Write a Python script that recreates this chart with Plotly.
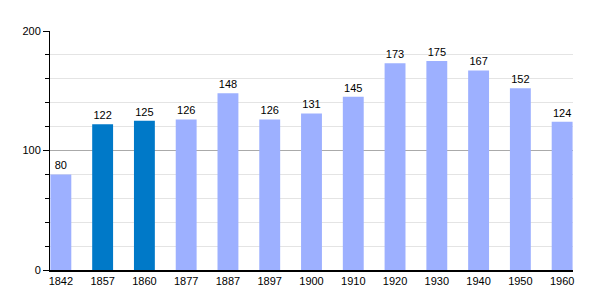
import plotly.graph_objects as go

years = ["1842", "1857", "1860", "1877", "1887", "1897", "1900", "1910", "1920", "1930", "1940", "1950", "1960"]
population = [80, 122, 125, 126, 148, 126, 131, 145, 173, 175, 167, 152, 124]
highlight = [False, True, True, False, False, False, False, False, False, False, False, False, False]

light = "#9db0ff"
dark = "#0079c8"
colors = [dark if h else light for h in highlight]

fig = go.Figure(go.Bar(
    x=years, y=population, marker_color=colors, marker_line_width=0,
    width=0.5, text=[str(v) for v in population], textposition="outside",
    textfont=dict(size=11, color="#000"), cliponaxis=False,
))
fig.update_layout(
    width=600, height=300, margin=dict(l=50, r=27, t=31, b=30),
    plot_bgcolor="white", paper_bgcolor="white",
    font=dict(family="Liberation Sans, Arial, sans-serif", size=11, color="#000"),
    showlegend=False, bargap=0.5,
)
fig.update_xaxes(type="category", range=[-0.26, 12.26], showline=True, linecolor="#000",
                 linewidth=1.5, ticks="", showgrid=False)
fig.update_yaxes(range=[0, 200], tickvals=[0, 100, 200], showline=True, linecolor="#000",
                 linewidth=1, ticks="outside", ticklen=6, tickcolor="#000",
                 showgrid=True, gridcolor="#aaaaaa", gridwidth=1, zeroline=False,
                 minor=dict(dtick=20, showgrid=True, gridcolor="#e4e4e4", ticks="outside",
                            ticklen=4, tickcolor="#000"))
fig.write_html("out.html")
